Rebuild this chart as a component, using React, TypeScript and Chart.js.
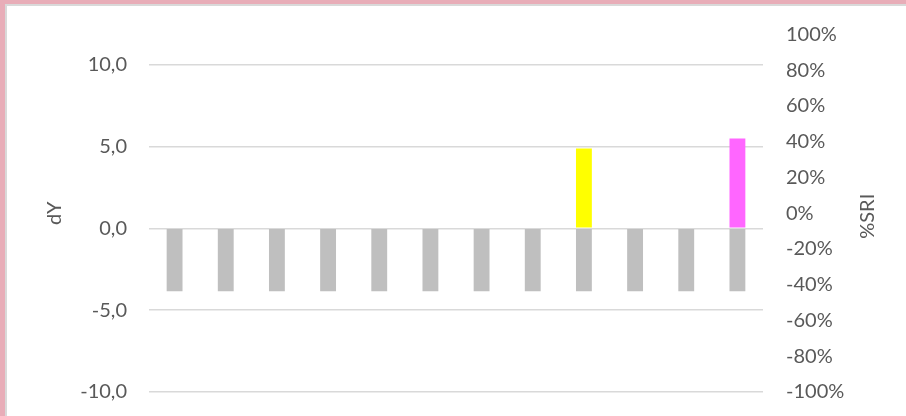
import React, { useEffect, useRef } from "react";
import { Chart, registerables } from "chart.js";

Chart.register(...registerables);

const categories = ["1", "2", "3", "4", "5", "6", "7", "8", "9", "10", "11", "12"];
const dYBase = [-3.85, -3.85, -3.85, -3.85, -3.85, -3.85, -3.85, -3.85, -3.85, -3.85, -3.85, -3.85];
const dYHighlight = [null, null, null, null, null, null, null, null, 4.87, null, null, 5.48];
const highlightColors = ["#ffff00", "#ffff00", "#ffff00", "#ffff00", "#ffff00", "#ffff00", "#ffff00", "#ffff00", "#ffff00", "#ff66ff", "#ff66ff", "#ff66ff"];
const leftTicks = [-10, -5, 0, 5, 10];
const leftTitle = "dY";
const rightTitle = "%SRI";

const FONT = "Lato";
const TEXT = "#595959";

const titlePlugin = {
  id: "sideTitles",
  afterDraw(chart: any) {
    const ctx = chart.ctx;
    const area = chart.chartArea;
    const cy = (area.top + area.bottom) / 2;
    ctx.save();
    ctx.fillStyle = TEXT;
    ctx.font = `20px ${FONT}`;
    ctx.textAlign = "center";
    ctx.textBaseline = "middle";
    ctx.translate(55, cy);
    ctx.rotate(-Math.PI / 2);
    ctx.fillText(leftTitle, 0, 0);
    ctx.restore();
    ctx.save();
    ctx.fillStyle = TEXT;
    ctx.font = `20px ${FONT}`;
    ctx.textAlign = "center";
    ctx.textBaseline = "middle";
    ctx.translate(868, cy + 3);
    ctx.rotate(-Math.PI / 2);
    ctx.fillText(rightTitle, 0, 0);
    ctx.restore();
  },
};

export default function App() {
  const ref = useRef<HTMLCanvasElement>(null);
  useEffect(() => {
    if (!ref.current) return;
    const chart = new Chart(ref.current, {
      type: "bar",
      data: {
        labels: categories,
        datasets: [
          {
            label: "dY",
            data: dYBase,
            backgroundColor: "#bfbfbf",
            yAxisID: "y",
            barPercentage: 0.31,
            categoryPercentage: 1,
          },
          {
            label: "dY highlight",
            data: dYHighlight as any,
            backgroundColor: highlightColors,
            yAxisID: "y",
            barPercentage: 0.31,
            categoryPercentage: 1,
          },
        ],
      },
      options: {
        responsive: false,
        animation: false,
        layout: { padding: { left: 0, right: 0, top: 34.5, bottom: 24 } },
        plugins: { legend: { display: false }, tooltip: { enabled: false } },
        scales: {
          x: { display: false, stacked: true },
          y: {
            position: "left",
            stacked: true,
            min: -10,
            max: 11.84,
            afterBuildTicks: (s: any) => {
              s.ticks = leftTicks.map((v) => ({ value: v }));
            },
            afterFit: (s: any) => {
              s.width = 149;
              s.paddingTop = 0;
              s.paddingBottom = 0;
            },
            grid: { color: "#d9d9d9", lineWidth: 1.5, drawTicks: false },
            border: { display: false },
            ticks: {
              padding: 22,
              color: TEXT,
              font: { family: FONT, size: 20 },
              callback: (v: any) => Number(v).toFixed(1).replace(".", ","),
            },
          },
          y2: {
            position: "right",
            min: -100,
            max: 100,
            afterFit: (s: any) => {
              s.width = 143;
              s.paddingTop = 0;
              s.paddingBottom = 0;
            },
            grid: { display: false, drawTicks: false },
            border: { display: false },
            ticks: {
              stepSize: 20,
              padding: 23,
              color: TEXT,
              font: { family: FONT, size: 20 },
              callback: (v: any) => `${v}%`,
            },
          },
        },
      },
      plugins: [titlePlugin],
    });
    return () => chart.destroy();
  }, []);

  return (
    <div style={{ position: "fixed", left: 0, top: 0, width: 906, height: 416, background: "#e8adb8", overflow: "hidden" }}>
      <div
        style={{
          position: "absolute",
          left: 5,
          top: 4,
          right: 0,
          bottom: 0,
          background: "#ffffff",
          borderLeft: "2px solid #d9d9d9",
          borderTop: "2px solid #d9d9d9",
        }}
      />
      <canvas ref={ref} width={906} height={416} style={{ position: "absolute", left: 0, top: 0 }} />
    </div>
  );
}
